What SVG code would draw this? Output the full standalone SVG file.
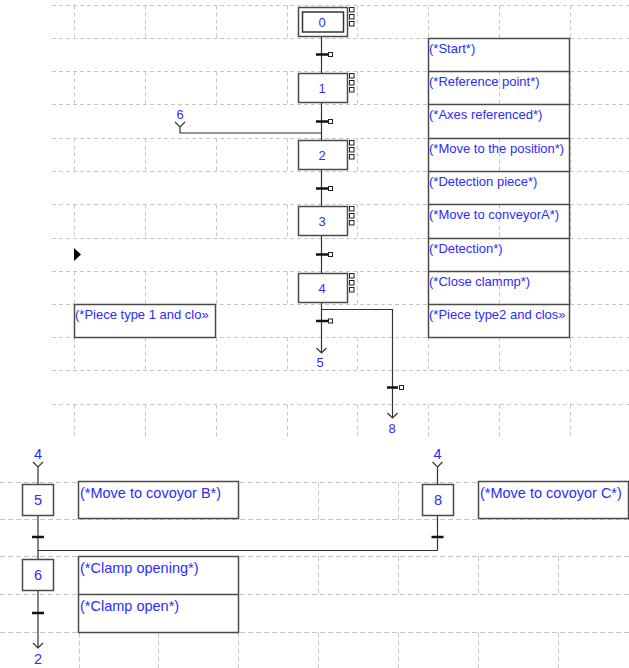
<svg xmlns="http://www.w3.org/2000/svg" width="629" height="668" viewBox="0 0 629 668">
<style>
.grid{stroke:#c6c6c6;stroke-width:1;stroke-dasharray:4 3;fill:none}
.grid2{stroke:#c6c6c6;stroke-width:1;stroke-dasharray:5 3;fill:none}
.step{fill:#fff;stroke:#4a4a4a;stroke-width:1.5}
.cbox{fill:none;stroke:#4a4a4a;stroke-width:1.5}
.cboxw{fill:#fff;stroke:#4a4a4a;stroke-width:1.5}
.link{stroke:#333;stroke-width:1.2;fill:none}
.bar{stroke:#111;stroke-width:2.5}
.sq{fill:#fff;stroke:#222;stroke-width:1}
.num{font-family:"Liberation Sans",Arial,sans-serif;font-size:13px;fill:#2b2bff;text-anchor:middle}
.cmt{font-family:"Liberation Sans",Arial,sans-serif;font-size:13px;fill:#2b2bff}
.num2{font-family:"Liberation Sans",Arial,sans-serif;font-size:14.5px;fill:#2b2bff;text-anchor:middle}
.cmt2{font-family:"Liberation Sans",Arial,sans-serif;font-size:14.5px;fill:#2b2bff}
</style>
<defs>
  <g id="flags">
    <rect class="sq" x="0" y="0" width="4.5" height="4.5"/>
    <rect class="sq" x="0" y="7" width="4.5" height="4.5"/>
    <rect class="sq" x="0" y="14" width="4.5" height="4.5"/>
  </g>
</defs>
<rect width="629" height="668" fill="#fff"/>

<!-- upper chart grid -->
<g id="grid-upper">
  <path class="grid" d="M52 5.5H629M52 38.5H629M52 71.5H629M52 104.5H629M52 138.5H629M52 171.5H629M52 204.5H629M52 238.5H629M52 271.5H629M52 304.5H629M52 337.5H629M52 370.5H629M52 404.5H629"/>
  <path class="grid" d="M74.5 5.5V38.5M145.5 5.5V38.5M216.5 5.5V38.5M287.5 5.5V38.5M357.5 5.5V38.5M428.5 5.5V38.5M499.5 5.5V38.5M570.5 5.5V38.5
    M74.5 71.5V104.5M145.5 71.5V104.5M216.5 71.5V104.5M287.5 71.5V104.5M357.5 71.5V104.5M499.5 71.5V104.5M570.5 71.5V104.5
    M74.5 138.5V171.5M145.5 138.5V171.5M216.5 138.5V171.5M287.5 138.5V171.5M357.5 138.5V171.5M499.5 138.5V171.5M570.5 138.5V171.5
    M74.5 204.5V238.5M145.5 204.5V238.5M216.5 204.5V238.5M287.5 204.5V238.5M357.5 204.5V238.5M499.5 204.5V238.5M570.5 204.5V238.5
    M74.5 271.5V304.5M145.5 271.5V304.5M216.5 271.5V304.5M287.5 271.5V304.5M357.5 271.5V304.5M499.5 271.5V304.5M570.5 271.5V304.5
    M74.5 337.5V370.5M145.5 337.5V370.5M216.5 337.5V370.5M287.5 337.5V370.5M357.5 337.5V370.5M428.5 337.5V370.5M499.5 337.5V370.5M570.5 337.5V370.5
    M74.5 404.5V437M145.5 404.5V437M216.5 404.5V437M287.5 404.5V437M357.5 404.5V437M428.5 404.5V437M499.5 404.5V437M570.5 404.5V437"/>
</g>

<!-- lower chart grid -->
<g id="grid-lower">
  <path class="grid2" d="M0 482.5H629M0 519.5H629M0 556.5H629M0 594.5H629M0 632.5H629"/>
  <path class="grid2" d="M79.5 482.5V519.5M158.5 482.5V519.5M238.5 482.5V519.5M318.5 482.5V519.5M398.5 482.5V519.5M478.5 482.5V519.5M558.5 482.5V519.5
    M79.5 556.5V594.5M158.5 556.5V594.5M238.5 556.5V594.5M318.5 556.5V594.5M398.5 556.5V594.5M478.5 556.5V594.5M558.5 556.5V594.5
    M79.5 632.5V668M158.5 632.5V668M238.5 632.5V668M318.5 632.5V668M398.5 632.5V668M478.5 632.5V668M558.5 632.5V668"/>
</g>

<!-- links and transitions -->
<g id="connectors">
  <path class="link" d="M321.5 36V73M321.5 103V140M321.5 169V207M321.5 236V273M321.5 302V353"/>
  <path class="link" d="M175 122L180 127L185 122M180 127V133H321.5"/>
  <path class="link" d="M316.5 348L321.5 353L326.5 348"/>
  <path class="link" d="M321.5 309.5H392.5V418M387.5 413L392.5 418L397.5 413"/>
  <path class="bar" d="M316 54.5H328M316 121.5H328M316 188.5H328M316 254.5H328M316 321H328M387 387.5H398"/>
  <rect class="sq" x="328.5" y="52.5" width="4" height="4"/>
  <rect class="sq" x="328.5" y="119.5" width="4" height="4"/>
  <rect class="sq" x="328.5" y="186.5" width="4" height="4"/>
  <rect class="sq" x="328.5" y="252.5" width="4" height="4"/>
  <rect class="sq" x="328.5" y="319" width="4" height="4"/>
  <rect class="sq" x="399.5" y="385.5" width="4" height="4"/>

  <path class="link" d="M33 462L38 467L43 462M38 467V484M38 515V559M38 550.5H437.5"/>
  <path class="link" d="M432.5 462L437.5 467L442.5 462M437.5 467V484M437.5 515V550.5"/>
  <path class="link" d="M38 591V648M33 643L38 648L43 643"/>
  <path class="bar" d="M32 537H44M431.5 537H443.5M32 613H44"/>
</g>

<!-- jump labels -->
<g id="jumps">
  <text class="num" x="180" y="119">6</text>
  <text class="num" x="320" y="367">5</text>
  <text class="num" x="392" y="433">8</text>
  <text class="num2" x="38" y="459">4</text>
  <text class="num2" x="437.5" y="459">4</text>
  <text class="num2" x="38" y="664">2</text>
</g>

<g id="cursor">
  <polygon points="74,248 81,254.5 74,261" fill="#000"/>
</g>

<!-- upper steps -->
<g id="step0">
  <rect class="step" x="298.5" y="7.5" width="49" height="29"/>
  <rect fill="none" stroke="#333" stroke-width="1.5" x="302.5" y="12" width="41" height="20"/>
  <use href="#flags" x="349.5" y="7.5"/>
  <text class="num" x="322" y="27">0</text>
</g>
<g id="step1">
  <rect class="step" x="298.5" y="73.5" width="49" height="29"/>
  <use href="#flags" x="349.5" y="73.5"/>
  <text class="num" x="322" y="93">1</text>
</g>
<g id="step2">
  <rect class="step" x="298.5" y="140.5" width="49" height="29"/>
  <use href="#flags" x="349.5" y="140.5"/>
  <text class="num" x="322" y="160">2</text>
</g>
<g id="step3">
  <rect class="step" x="298.5" y="206.5" width="49" height="29"/>
  <use href="#flags" x="349.5" y="206.5"/>
  <text class="num" x="322" y="226">3</text>
</g>
<g id="step4">
  <rect class="step" x="298.5" y="273.5" width="49" height="29"/>
  <use href="#flags" x="349.5" y="273.5"/>
  <text class="num" x="322" y="293">4</text>
</g>

<!-- upper comments -->
<g id="comments-upper">
  <rect class="cbox" x="428.5" y="38.5" width="141" height="299"/>
  <path class="cbox" d="M428.5 71.5H569.5M428.5 104.5H569.5M428.5 138.5H569.5M428.5 171.5H569.5M428.5 204.5H569.5M428.5 238.5H569.5M428.5 271.5H569.5M428.5 304.5H569.5"/>
  <text class="cmt" x="429" y="52.5">(*Start*)</text>
  <text class="cmt" x="429" y="86">(*Reference point*)</text>
  <text class="cmt" x="429" y="119">(*Axes referenced*)</text>
  <text class="cmt" x="429" y="152.5">(*Move to the position*)</text>
  <text class="cmt" x="429" y="186">(*Detection piece*)</text>
  <text class="cmt" x="429" y="219">(*Move to conveyorA*)</text>
  <text class="cmt" x="429" y="252.5">(*Detection*)</text>
  <text class="cmt" x="429" y="286">(*Close clammp*)</text>
  <text class="cmt" x="429" y="319">(*Piece type2 and clos»</text>
</g>
<g id="comment-type1">
  <rect class="cbox" x="74.5" y="304.5" width="141" height="33"/>
  <text class="cmt" x="75" y="319">(*Piece type 1 and clo»</text>
</g>

<!-- lower steps -->
<g id="step5">
  <rect class="step" x="22.5" y="484.5" width="31" height="31"/>
  <text class="num2" x="38" y="505">5</text>
</g>
<g id="step8">
  <rect class="step" x="422.5" y="484.5" width="31" height="31"/>
  <text class="num2" x="438" y="505">8</text>
</g>
<g id="step6">
  <rect class="step" x="22.5" y="559.5" width="31" height="31"/>
  <text class="num2" x="38" y="580">6</text>
</g>

<!-- lower comments -->
<g id="comment-step5">
  <rect class="cboxw" x="78.5" y="481.5" width="160" height="37"/>
  <text class="cmt2" x="80" y="498">(*Move to covoyor B*)</text>
</g>
<g id="comment-step8">
  <rect class="cboxw" x="478.5" y="481.5" width="150" height="37"/>
  <text class="cmt2" x="480" y="498">(*Move to covoyor C*)</text>
</g>
<g id="comment-step6">
  <rect class="cboxw" x="78.5" y="556.5" width="160" height="76"/>
  <path class="cbox" d="M78.5 594.5H238.5"/>
  <text class="cmt2" x="80" y="573">(*Clamp opening*)</text>
  <text class="cmt2" x="80" y="611">(*Clamp open*)</text>
</g>
</svg>
